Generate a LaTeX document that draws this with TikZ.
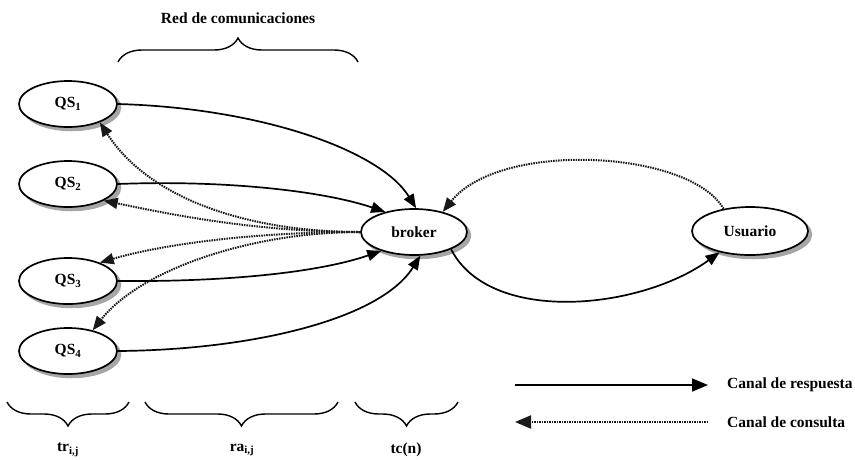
\documentclass[tikz,border=0pt]{standalone}
\usepackage{fontspec}
\setmainfont{Liberation Serif}
\usetikzlibrary{shapes.geometric,arrows.meta,decorations.pathreplacing}

\begin{document}
\begin{tikzpicture}[x=1pt,y=-1pt,
  font=\fontsize{15.5}{18}\selectfont\bfseries,
  station/.style={ellipse,draw,line width=1.7pt,fill=white,inner sep=0pt},
  qsnode/.style={station,minimum width=98pt,minimum height=46pt},
  shade/.style={fill=gray!70,draw=gray!70,line width=1.5pt},
  resp/.style={line width=1.7pt,-{Triangle[length=14pt,width=11pt]}},
  cons/.style={line width=2pt,black!90,dash pattern=on 1.5pt off 1pt,
    -{Triangle[length=14pt,width=11pt]}},
  brace/.style={line width=1.4pt,decorate,decoration={brace,amplitude=24pt}},
  lbl/.style={inner sep=0pt}]

\useasboundingbox (0,0) rectangle (855,459);

% grey shadows, drawn first so the ellipses cover them
\foreach \cx/\cy in {68/104,68/184,68/281,68/351}
  \fill[shade] (\cx+3.5,\cy+3.5) ellipse [x radius=49, y radius=23];
\fill[shade] (417.5,235.5) ellipse [x radius=53, y radius=23];
\fill[shade] (753.5,234.5) ellipse [x radius=58, y radius=24];

% servers, broker and user
\node[qsnode] (qs1) at (68,104) {QS\textsubscript{1}};
\node[qsnode] (qs2) at (68,184) {QS\textsubscript{2}};
\node[qsnode] (qs3) at (68,281) {QS\textsubscript{3}};
\node[qsnode] (qs4) at (68,351) {QS\textsubscript{4}};
\node[station,minimum width=106pt,minimum height=46pt] (broker) at (414,232) {broker};
\node[station,minimum width=116pt,minimum height=48pt] (user) at (750,231) {Usuario};

% response channel
\draw[resp] (qs1.east) .. controls (260,108) and (380,150) .. (broker.85);
\draw[resp] (qs2.east) .. controls (220,180) and (320,190) .. (broker.145);
\draw[resp] (qs3.east) .. controls (230,282) and (320,272) .. (broker.-150);
\draw[resp] (qs4.east) .. controls (250,350) and (380,320) .. (broker.-75);
\draw[resp] (broker.-25) .. controls (490,325) and (640,310) .. (user.-145);

% query channel
\draw[cons] (user.140) .. controls (690,150) and (500,140) .. (broker.35);
\draw[cons] (broker.west) .. controls (250,232) and (150,200) .. (qs1.-30);
\draw[cons] (broker.west) .. controls (250,232) and (160,212) .. (qs2.-25);
\draw[cons] (broker.west) .. controls (250,232) and (160,245) .. (qs3.30);
\draw[cons] (broker.west) .. controls (250,232) and (140,270) .. (qs4.40);

% braces
\draw[brace] (118,62) -- (358,62);
\node[lbl] (net) at (238,18) {Red de comunicaciones};
\draw[brace] (129,402) -- (7,402);
\draw[brace] (338,402) -- (145,402);
\draw[brace] (458,402) -- (355,402);
\node[lbl] (tr) at (68,450) {tr\textsubscript{i,j}};
\node[lbl] (ra) at (242,450) {ra\textsubscript{i,j}};
\node[lbl] (tc) at (406,450) {tc(n)};

% legend
\coordinate (la) at (515,385);
\coordinate (lb) at (708,385);
\coordinate (lc) at (708,422);
\coordinate (ld) at (515,422);
\draw[resp,-{Triangle[length=16pt,width=13pt]}] (la) -- (lb);
\draw[cons,-{Triangle[length=16pt,width=13pt]}] (lc) -- (ld);
\node[lbl,anchor=west] (lresp) at (727,385) {Canal de respuesta};
\node[lbl,anchor=west] (lcons) at (727,422) {Canal de consulta};
\end{tikzpicture}
\end{document}
